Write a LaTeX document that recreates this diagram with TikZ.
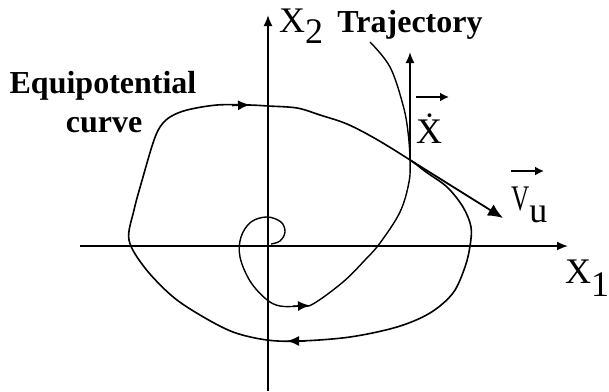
\documentclass[tikz,border=0pt]{standalone}
\usepackage{fontspec}
\setmainfont{Liberation Serif}
\usetikzlibrary{arrows.meta}

\begin{document}
\begin{tikzpicture}[x=1pt, y=-1pt,
    axis/.style={line width=1.8pt, -{Latex[length=11pt,width=9pt]}},
    curveline/.style={line width=1.6pt},
    trajline/.style={line width=1.4pt},
    tip/.style={line width=1.6pt, -{Latex[length=12pt,width=10pt]}},
    vecarrow/.style={line width=2.2pt, -{Latex[length=9pt,width=9pt]}},
    lbl/.style={inner sep=0pt, font=\fontsize{32}{38}\selectfont\bfseries},
    sym/.style={inner sep=0pt, font=\fontsize{36}{40}\selectfont}]
    \useasboundingbox (0,0) rectangle (609,391);

    % axes
    \coordinate (O) at (268,246);
    \coordinate (x1start) at (80,246);
    \coordinate (x1end) at (568,246);
    \coordinate (x2start) at (268,391);
    \coordinate (x2end) at (268,15);
    \draw[axis] (x1start) -- (x1end);
    \draw[axis] (x2start) -- (x2end);

    % equipotential curve
    \draw[curveline] plot[smooth cycle, tension=0.55] coordinates {
        (129,240) (134,210) (143,177) (153,143) (160,127) (170,117) (187,110)
        (217,105) (249,105) (268,106) (297,108) (320,115) (347,124) (376,139)
        (410,160) (426,172) (447,187) (463,207) (471,227) (470,246) (465,267)
        (453,293) (430,313) (397,327) (350,337) (300,341) (267,340) (233,332)
        (200,315) (172,296) (145,268)};
    \draw[tip] (232,105.5) -- (250,104.8);
    \draw[tip] (305,341) -- (287,341);

    % trajectory
    \coordinate (P) at (410,160);
    \draw[trajline] plot[smooth, tension=0.6] coordinates {
        (271,244) (280,241) (285,232) (281,222) (267,217) (251,222) (241,237)
        (240,257) (250,281) (266,299) (280,306) (300,306) (313,304) (343,282)
        (365,260) (380,243) (400,212) (409,182) (410,160) (408,132) (403,105)
        (390,67) (370,42)};
    \draw[tip] (293,306.2) -- (310,305.5);

    % vectors at the crossing point
    \coordinate (xdottip) at (410,52);
    \coordinate (vutip) at (503,218);
    \draw[axis] (P) -- (xdottip);
    \draw[line width=1.8pt, -{Latex[length=15pt,width=13pt]}] (P) -- (vutip);

    % labels
    \node[sym, anchor=base west] (x2lbl) at (279,32) {X\raisebox{-11pt}{2}};
    \node[sym, anchor=base west] (x1lbl) at (565,283) {X\raisebox{-13pt}{1}};
    \node[lbl, anchor=base] (trajlbl) at (410,32) {Trajectory};
    \node[lbl, anchor=base] (equilbl) at (103,93) {Equipotential};
    \node[lbl, anchor=base] (curvelbl) at (104,132) {curve};
    \node[sym, anchor=base west] (xdotlbl) at (416,143) {\.{X}};
    \node[sym, anchor=base west] (vulbl) at (511,210) {\scalebox{0.7}[1]{V}\raisebox{-12pt}{u}};
    \coordinate (xdotarr) at (416,97);
    \coordinate (vuarr) at (511,171);
    \draw[vecarrow] (xdotarr) -- ++(33,0);
    \draw[vecarrow] (vuarr) -- ++(33,0);
\end{tikzpicture}
\end{document}
